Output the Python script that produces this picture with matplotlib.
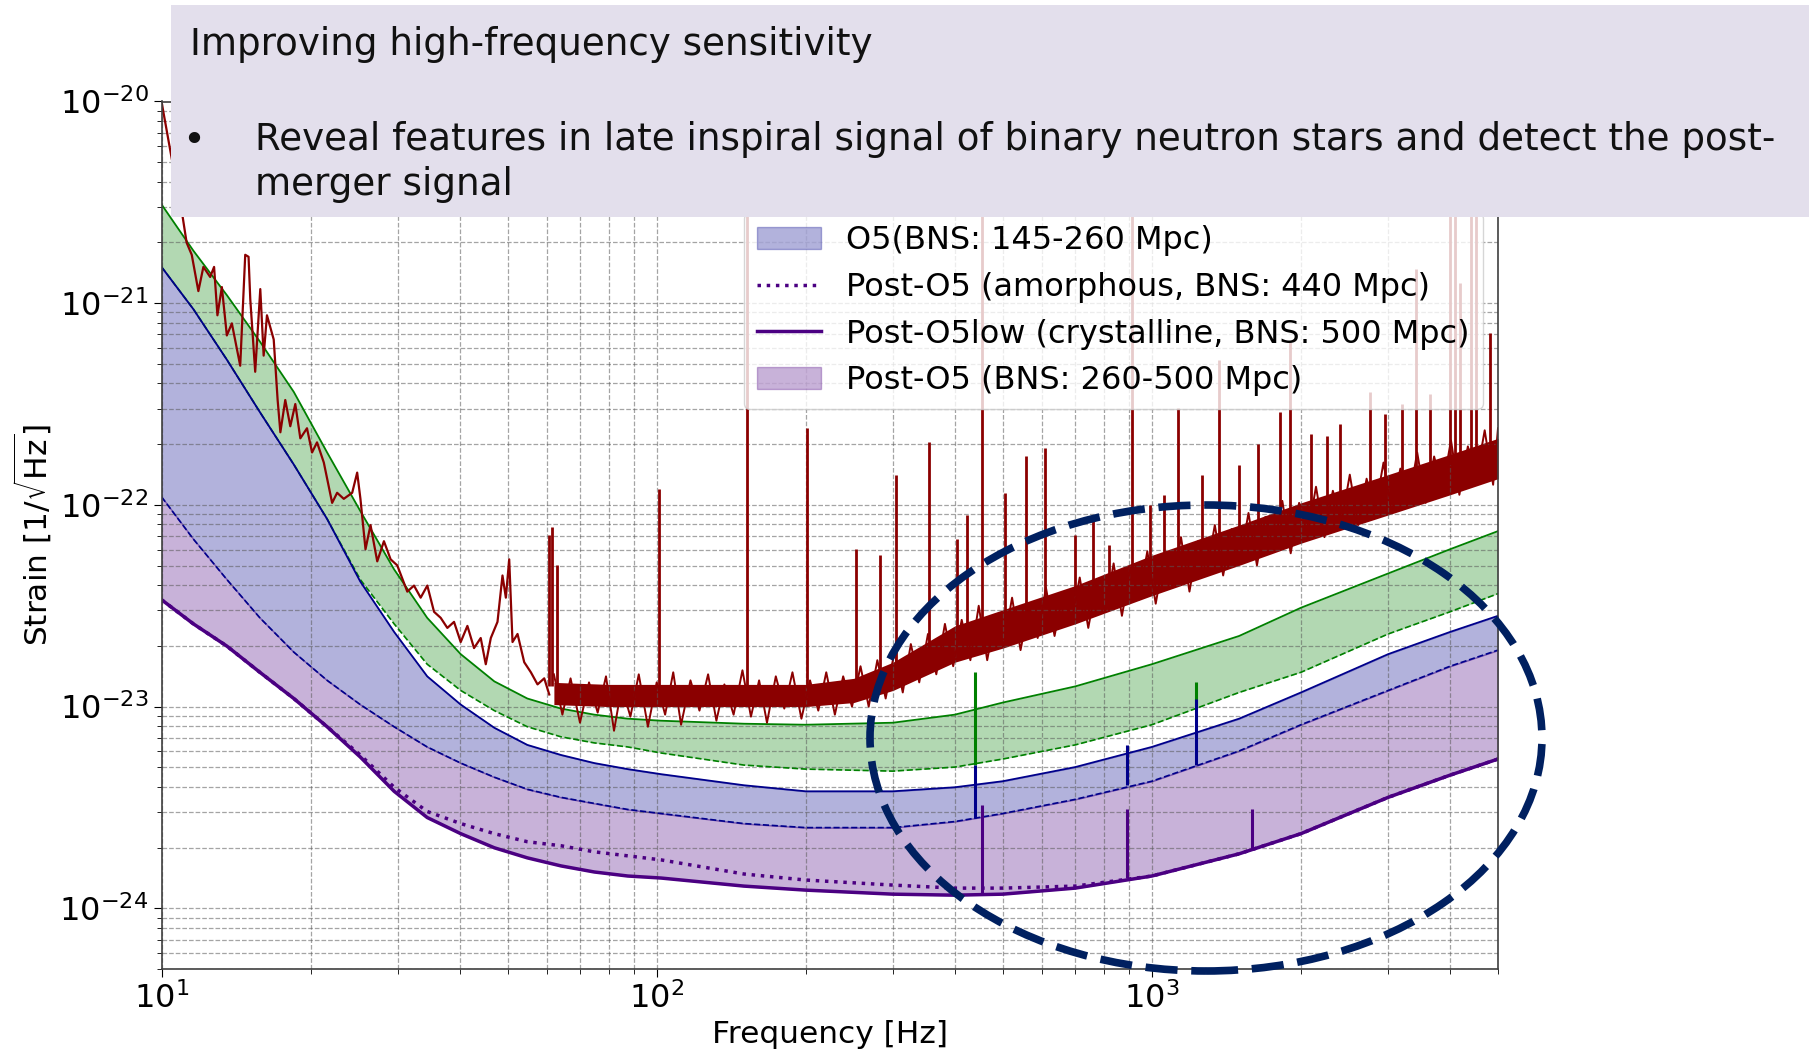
import matplotlib.pyplot as plt
import numpy as np
from matplotlib.patches import Rectangle, Ellipse
from matplotlib.ticker import LogLocator, NullFormatter

# ---- design curves, log10(strain) ----
freq = [10, 11.6, 13.55, 15.8, 18.5, 21.6, 25.2, 29.5, 34.4, 40.2, 47, 54.8, 64.1, 74.8,
        87.4, 102, 150, 200, 300, 400, 500, 700, 1000, 1500, 2000, 3000, 4000, 5000]
o4_upper = [-20.51, -20.74, -20.96, -21.19, -21.44, -21.74, -22.03, -22.32, -22.56, -22.74,
            -22.875, -22.96, -23.01, -23.04, -23.06, -23.07, -23.085, -23.09, -23.08, -23.04,
            -22.98, -22.90, -22.79, -22.65, -22.51, -22.34, -22.22, -22.13]
o4_lower = [-20.82, -21.03, -21.28, -21.54, -21.80, -22.07, -22.37, -22.59, -22.79, -22.92,
            -23.02, -23.10, -23.15, -23.18, -23.20, -23.23, -23.29, -23.31, -23.32, -23.30,
            -23.26, -23.19, -23.09, -22.93, -22.83, -22.64, -22.53, -22.44]
o5_upper = [-20.82, -21.03, -21.28, -21.54, -21.80, -22.07, -22.38, -22.63, -22.85, -22.99,
            -23.105, -23.19, -23.24, -23.28, -23.31, -23.335, -23.39, -23.42, -23.42, -23.40,
            -23.37, -23.30, -23.20, -23.06, -22.93, -22.74, -22.63, -22.55]
o5_lower = [-21.96, -22.17, -22.37, -22.56, -22.73, -22.87, -22.99, -23.10, -23.20, -23.28,
            -23.35, -23.41, -23.45, -23.48, -23.51, -23.53, -23.58, -23.60, -23.60, -23.57,
            -23.53, -23.46, -23.37, -23.22, -23.09, -22.92, -22.80, -22.72]
post_o5_amorphous = [-22.47, -22.59, -22.70, -22.83, -22.96, -23.10, -23.24, -23.40, -23.52, -23.58,
                     -23.63, -23.67, -23.69, -23.72, -23.74, -23.76, -23.83, -23.86, -23.885, -23.90,
                     -23.90, -23.89, -23.84, -23.73, -23.63, -23.45, -23.34, -23.26]
post_o5_low = [-22.47, -22.59, -22.70, -22.83, -22.96, -23.10, -23.25, -23.42, -23.55, -23.63,
               -23.70, -23.75, -23.79, -23.82, -23.84, -23.85, -23.89, -23.91, -23.93, -23.935,
               -23.93, -23.90, -23.84, -23.73, -23.63, -23.45, -23.34, -23.26]

# resonance lines on the design curves
res_f = [440, 440, 453, 890, 890, 1225, 1225, 1590]
res_base = [-23.29, -23.55, -23.93, -23.39, -23.85, -23.00, -23.29, -23.71]
res_top = [-22.83, -23.29, -23.49, -23.19, -23.51, -22.88, -22.96, -23.51]

# ---- measured noise (dark red) below 61 Hz ----
meas_f = [10.0, 10.5, 11.03, 11.24, 11.51, 11.87, 12.15, 12.54, 12.77, 12.97,
          13.24, 13.55, 13.87, 14.42, 14.76, 14.99, 15.11, 15.46, 15.83, 16.08,
          16.33, 16.85, 17.16, 17.38, 17.78, 18.20, 18.63, 19.07, 19.67, 20.14,
          20.61, 21.27, 22.11, 22.63, 23.34, 24.27, 24.84, 25.22, 25.82, 26.43,
          27.27, 28.13, 29.02, 29.93, 31.36, 32.35, 33.37, 34.42, 35.51, 36.63,
          37.78, 38.97, 40.20, 41.47, 42.77, 44.12, 45.17, 46.24, 47.70, 48.82,
          49.59, 50.37, 51.15, 52.36, 54.01, 55.71, 57.46, 59.28, 60.68]
meas_v = [-20.00, -20.29, -20.57, -20.70, -20.76, -20.94, -20.82, -20.87, -20.82, -21.06,
          -20.92, -21.16, -21.10, -21.31, -20.76, -20.77, -20.98, -21.34, -20.93, -21.26,
          -21.06, -21.18, -21.48, -21.64, -21.48, -21.61, -21.50, -21.67, -21.62, -21.74,
          -21.69, -21.79, -21.99, -21.94, -21.97, -21.94, -21.84, -21.97, -22.22, -22.10,
          -22.28, -22.18, -22.27, -22.30, -22.43, -22.40, -22.46, -22.40, -22.53, -22.56,
          -22.61, -22.58, -22.68, -22.60, -22.71, -22.66, -22.79, -22.66, -22.58, -22.35,
          -22.46, -22.27, -22.68, -22.64, -22.78, -22.83, -22.89, -22.86, -22.94]

# measured noise above 60 Hz: dense core of the noise band ...
core_f = [62, 80, 100, 150, 200, 250, 300, 400, 500, 700, 1000, 1500, 2000, 3000, 4000, 5000]
core_hi = [-22.88, -22.89, -22.89, -22.89, -22.89, -22.86, -22.78, -22.60, -22.52, -22.40,
           -22.25, -22.10, -21.99, -21.85, -21.75, -21.67]
core_lo = [-22.99, -23.00, -23.00, -23.00, -23.00, -22.98, -22.92, -22.78, -22.71, -22.59,
           -22.45, -22.30, -22.19, -22.05, -21.95, -21.87]
# ... and its ragged trace
trace_f = [62, 64.5, 67, 70, 73, 76, 79, 82, 85, 88.5, 92, 96, 100, 104, 108, 112, 117, 122,
           127, 132, 137, 143, 149, 155, 161, 167, 174, 181, 188, 196, 204, 212, 220, 229,
           238, 248, 258, 268, 279, 290, 302, 314, 326, 339, 353, 367, 382, 397, 413, 430,
           447, 465, 483, 502, 522, 543, 565, 588, 611, 636, 661, 688, 715, 744, 774, 805,
           837, 870, 905, 941, 979, 1018, 1059, 1101, 1145, 1191, 1239, 1288, 1340, 1393,
           1449, 1507, 1567, 1630, 1695, 1763, 1834, 1907, 1983, 2063, 2145, 2231, 2320,
           2413, 2510, 2610, 2714, 2823, 2936, 3053, 3175, 3302, 3434, 3572, 3715, 3863,
           4018, 4178, 4346, 4519, 4700, 4888, 5000]
trace_v = [-22.84, -23.04, -22.86, -23.08, -22.88, -23.03, -22.85, -23.12, -22.90, -23.05,
           -22.84, -23.10, -22.88, -23.04, -22.83, -23.09, -22.87, -23.02, -22.84, -23.07,
           -22.89, -23.04, -22.82, -23.05, -22.87, -23.08, -22.85, -23.01, -22.83, -23.06,
           -22.87, -23.02, -22.83, -23.04, -22.85, -23.00, -22.80, -23.00, -22.77, -22.96,
           -22.73, -22.93, -22.69, -22.88, -22.64, -22.84, -22.59, -22.80, -22.57, -22.77,
           -22.50, -22.77, -22.55, -22.70, -22.46, -22.72, -22.50, -22.66, -22.41, -22.65,
           -22.44, -22.58, -22.36, -22.61, -22.38, -22.53, -22.29, -22.55, -22.31, -22.47,
           -22.23, -22.49, -22.25, -22.41, -22.16, -22.43, -22.18, -22.34, -22.10, -22.35,
           -22.12, -22.28, -22.04, -22.30, -22.06, -22.22, -21.98, -22.24, -21.99, -22.15,
           -21.91, -22.16, -21.93, -22.09, -21.85, -22.10, -21.87, -22.03, -21.79, -22.04,
           -21.82, -21.98, -21.74, -21.99, -21.76, -21.92, -21.68, -21.95, -21.71, -21.87,
           -21.63, -21.90, -21.62]

# spectral lines of the measured noise
line_f = [60.7, 61.6, 63.0, 101, 152, 201, 253, 282, 304, 354,
          404, 424, 454, 506, 557, 608, 700, 760, 820, 910,
          990, 1060, 1128, 1260, 1368, 1500, 1640, 1816, 1905, 2100,
          2254, 2400, 2754, 2950, 3200, 3414, 3650, 4000, 4100, 4190,
          4400, 4520, 4820]
line_base = [-22.90, -22.90, -22.90, -22.92, -22.91, -22.91, -22.87, -22.84, -22.80, -22.72,
             -22.65, -22.63, -22.60, -22.57, -22.54, -22.51, -22.45, -22.42, -22.39, -22.34,
             -22.30, -22.28, -22.25, -22.21, -22.18, -22.15, -22.12, -22.08, -22.06, -22.02,
             -22.00, -21.98, -21.93, -21.91, -21.88, -21.86, -21.84, -21.80, -21.79, -21.78,
             -21.77, -21.76, -21.73]
line_top = [-22.15, -22.11, -22.30, -21.92, -20.0, -21.62, -22.22, -22.25, -21.85, -21.69,
            -22.17, -22.05, -20.0, -21.94, -21.76, -21.72, -22.15, -22.05, -22.20, -20.0,
            -22.00, -21.95, -21.52, -21.85, -21.28, -21.80, -21.70, -21.54, -21.19, -21.65,
            -21.66, -21.60, -21.44, -21.55, -21.50, -20.83, -21.45, -20.55, -20.0, -20.90,
            -20.0, -20.0, -21.15]

labels = ["O5(BNS: 145-260 Mpc)",
          "Post-O5 (amorphous, BNS: 440 Mpc)",
          "Post-O5low (crystalline, BNS: 500 Mpc)",
          "Post-O5 (BNS: 260-500 Mpc)"]

GREEN = "green"
BLUE = "darkblue"
INDIGO = "#4b0082"
RED = "darkred"
res_colors = [GREEN, BLUE, INDIGO, BLUE, INDIGO, GREEN, BLUE, INDIGO]


def s(v):
    return 10.0 ** np.asarray(v)


fig = plt.figure(figsize=(18.09, 10.58), dpi=100)
ax = fig.add_axes([161.5 / 1809, 1 - 969 / 1058, (1498 - 161.5) / 1809, (969 - 101.5) / 1058])

# bands
ax.fill_between(freq, s(o4_lower), s(o4_upper), color=GREEN, alpha=0.3, lw=0)
ax.plot(freq, s(o4_upper), color=GREEN, lw=1.3)
ax.plot(freq, s(o4_lower), color=GREEN, lw=1.2, ls="--")

o5_band = ax.fill_between(freq, s(o5_lower), s(o5_upper), color=BLUE, alpha=0.3)
ax.plot(freq, s(o5_upper), color=BLUE, lw=1.3)
ax.plot(freq, s(o5_lower), color=BLUE, lw=1.2, ls="--")

post_band = ax.fill_between(freq, s(post_o5_low), s(o5_lower), color=INDIGO, alpha=0.3)
amorph, = ax.plot(freq, s(post_o5_amorphous), color=INDIGO, lw=2.5, ls=":")
low, = ax.plot(freq, s(post_o5_low), color=INDIGO, lw=2.5)

ax.vlines(res_f, s(res_base), s(res_top), colors=res_colors, lw=2.2)

# measured noise
ax.plot(meas_f, s(meas_v), color=RED, lw=1.6)
ax.fill_between(core_f, s(core_lo), s(core_hi), color=RED, lw=0)
ax.plot(trace_f, s(trace_v), color=RED, lw=1.4)
ax.vlines(line_f, s(line_base), s(line_top), colors=RED, lw=2.0)

ax.set_xscale("log")
ax.set_yscale("log")
ax.set_xlim(10, 5000)
ax.set_ylim(5e-25, 1e-20)
ax.set_yticks([1e-24, 1e-23, 1e-22, 1e-21, 1e-20])
ax.yaxis.set_minor_locator(LogLocator(base=10, subs=np.arange(2, 10)))
ax.yaxis.set_minor_formatter(NullFormatter())
ax.xaxis.set_minor_formatter(NullFormatter())
ax.grid(True, which="both", ls="--", lw=0.9, color="0.35", alpha=0.55)
ax.tick_params(labelsize=23, which="major", length=6)
ax.tick_params(which="minor", length=3.5)
for sp in ax.spines.values():
    sp.set_linewidth(1.2)
    sp.set_color("0.25")
ax.set_xlabel("Frequency [Hz]", fontsize=22.5)
ax.set_ylabel(r"Strain [1/$\sqrt{\mathrm{Hz}}$]", fontsize=22.5)

ax.legend([o5_band, amorph, low, post_band], labels, loc="lower left",
          bbox_to_anchor=(744 / 1809, 1 - 409 / 1058), bbox_transform=fig.transFigure,
          borderaxespad=0, fontsize=23, labelspacing=0.49, framealpha=0.8)

# caption box on top of the plot
fig.add_artist(Rectangle((171 / 1809, 1 - 217 / 1058), 1.0, (217 - 5) / 1058,
                         transform=fig.transFigure, facecolor="#e3dfec", edgecolor="none", zorder=2))
txt = dict(fontsize=26.8, family="DejaVu Sans", color="#111111", zorder=3, va="baseline")
fig.text(190 / 1809, 1 - 55 / 1058, "Improving high-frequency sensitivity", **txt)
fig.text(194 / 1809, 1 - 141 / 1058, "\u2022", fontsize=28, family="DejaVu Sans",
         color="#111111", zorder=3, va="center", ha="center")
fig.text(255 / 1809, 1 - 149.5 / 1058,
         "Reveal features in late inspiral signal of binary neutron stars and detect the post-", **txt)
fig.text(255 / 1809, 1 - 195 / 1058, "merger signal", **txt)

# dashed highlight ellipse
fig.add_artist(Ellipse((1206 / 1809, 1 - 738 / 1058), 672 / 1809, 466 / 1058,
                       transform=fig.transFigure, fill=False, edgecolor="#002060",
                       lw=5.5, ls=(0, (4.2, 1.8)), zorder=4))

fig.savefig("out.png", dpi=100)
